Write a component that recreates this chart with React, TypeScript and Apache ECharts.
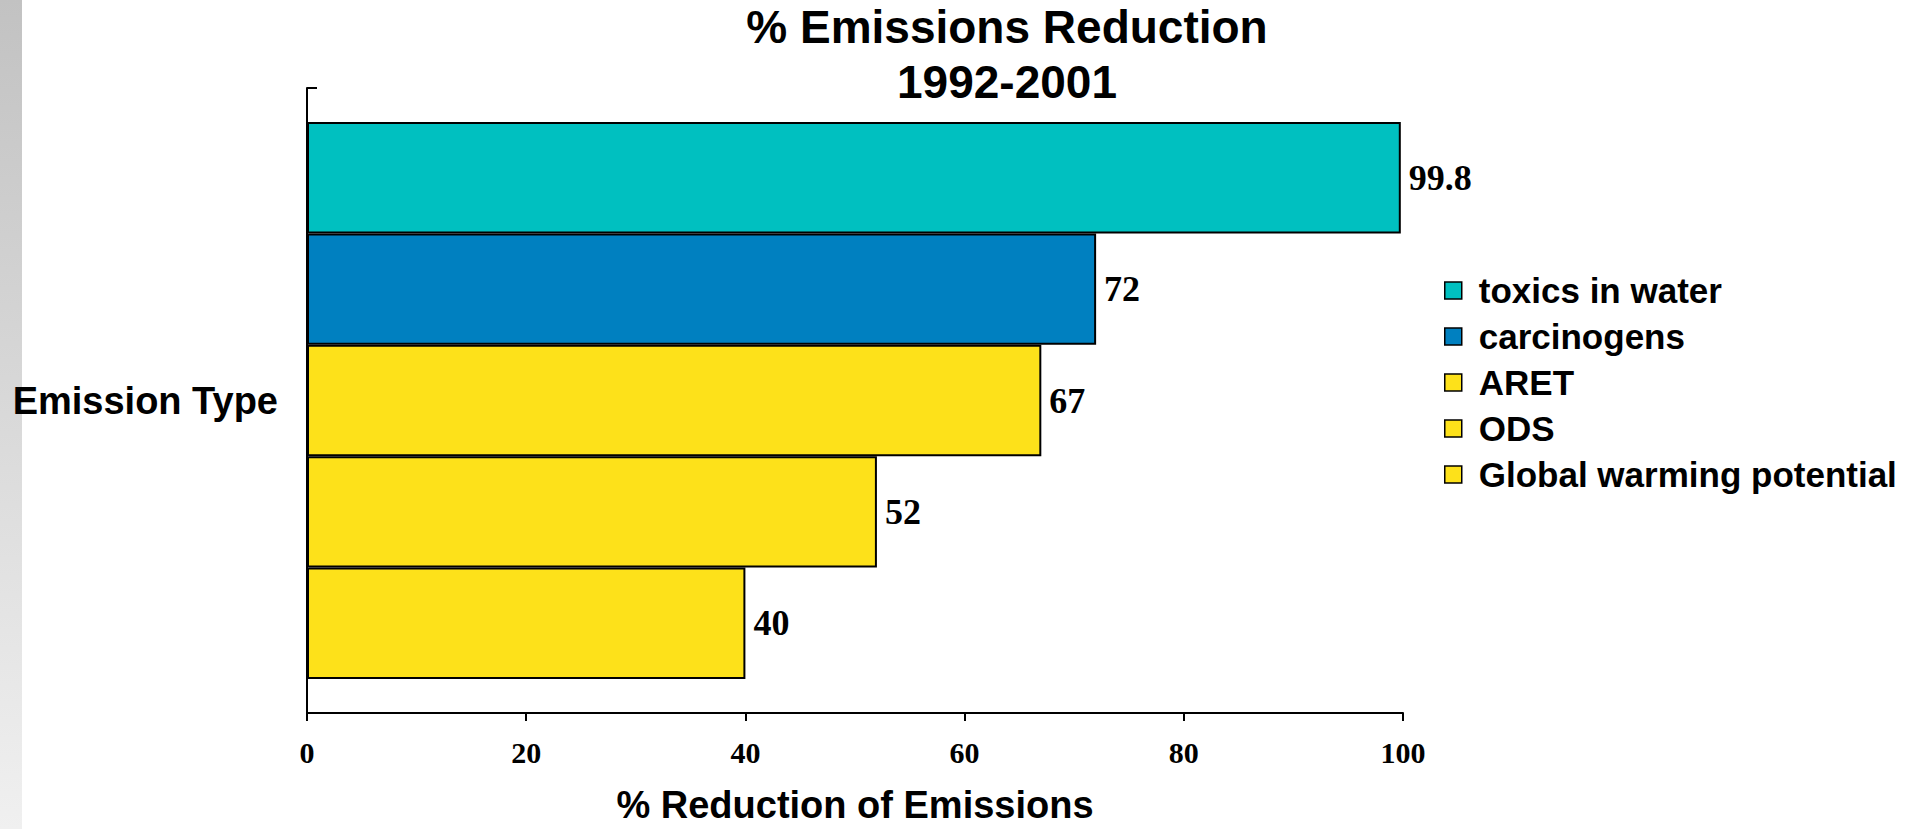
import React, { useEffect, useRef } from "react";
import * as echarts from "echarts";

const categories = [""];
const seriesNames = ["toxics in water", "carcinogens", "ARET", "ODS", "Global warming potential"];
const seriesValues = [99.8, 72, 67, 52, 40];
const seriesColors = ["#00C0C0", "#0080C0", "#FDE11A", "#FDE11A", "#FDE11A"];
const xTicks = { min: 0, max: 100, interval: 20 };

export default function App() {
  const ref = useRef<HTMLDivElement>(null);
  useEffect(() => {
    if (!ref.current) return;
    const chart = echarts.init(ref.current, null, { renderer: "svg" });
    const series = seriesNames.map((name, i) => ({
      name,
      type: "bar",
      data: [seriesValues[i]],
      barGap: "0%",
      barCategoryGap: "10.9%",
      itemStyle: { color: seriesColors[i], borderColor: "#000", borderWidth: 2 },
      label: {
        show: true,
        position: "right",
        distance: 8,
        color: "#000",
        fontFamily: "Liberation Serif",
        fontWeight: "bold",
        fontSize: 36,
      },
    }));
    chart.setOption({
      animation: false,
      backgroundColor: "#fff",
      title: {
        text: "% Emissions Reduction\n1992-2001",
        left: 1002,
        top: -6,
        textAlign: "center",
        textStyle: {
          fontFamily: "Liberation Sans",
          fontWeight: "bold",
          fontSize: 46,
          lineHeight: 55,
          color: "#000",
        },
      },
      graphic: [
        {
          type: "rect",
          left: 0,
          top: 0,
          shape: { width: 22, height: 829 },
          style: {
            fill: new echarts.graphic.LinearGradient(0, 0, 0, 1, [
              { offset: 0, color: "#C2C2C2" },
              { offset: 1, color: "#F0F0F0" },
            ]),
          },
          silent: true,
        },
      ],
      legend: {
        orient: "vertical",
        left: 1439,
        top: 268,
        itemWidth: 17,
        itemHeight: 17,
        itemGap: 11,
        icon: "rect",
        itemStyle: { borderColor: "#000", borderWidth: 1.5 },
        textStyle: {
          fontFamily: "Liberation Sans",
          fontWeight: "bold",
          fontSize: 35,
          color: "#000",
          padding: [0, 0, 0, 12],
        },
        data: seriesNames,
      },
      grid: { left: 307, right: 508, top: 88, bottom: 108, containLabel: false },
      xAxis: {
        type: "value",
        min: xTicks.min,
        max: xTicks.max,
        interval: xTicks.interval,
        name: "% Reduction of Emissions",
        nameLocation: "middle",
        nameGap: 73,
        nameTextStyle: {
          fontFamily: "Liberation Sans",
          fontWeight: "bold",
          fontSize: 38,
          color: "#000",
        },
        axisLine: { show: true, lineStyle: { color: "#000", width: 2 } },
        axisTick: { show: true, length: 8, lineStyle: { color: "#000", width: 2 } },
        splitLine: { show: false },
        axisLabel: {
          margin: 24,
          color: "#000",
          fontFamily: "Liberation Serif",
          fontWeight: "bold",
          fontSize: 30,
        },
      },
      yAxis: {
        type: "category",
        data: categories,
        name: "Emission Type",
        nameLocation: "middle",
        nameRotate: 0,
        nameGap: 29,
        nameTextStyle: {
          fontFamily: "Liberation Sans",
          fontWeight: "bold",
          fontSize: 38,
          color: "#000",
        },
        axisLine: { show: true, lineStyle: { color: "#000", width: 2 } },
        axisTick: { show: true, inside: true, length: 10, lineStyle: { color: "#000", width: 2 } },
        axisLabel: { show: false },
      },
      series,
    });
    return () => chart.dispose();
  }, []);
  return (
    <div
      ref={ref}
      style={{ position: "fixed", left: 0, top: 0, width: 1911, height: 829 }}
    />
  );
}
